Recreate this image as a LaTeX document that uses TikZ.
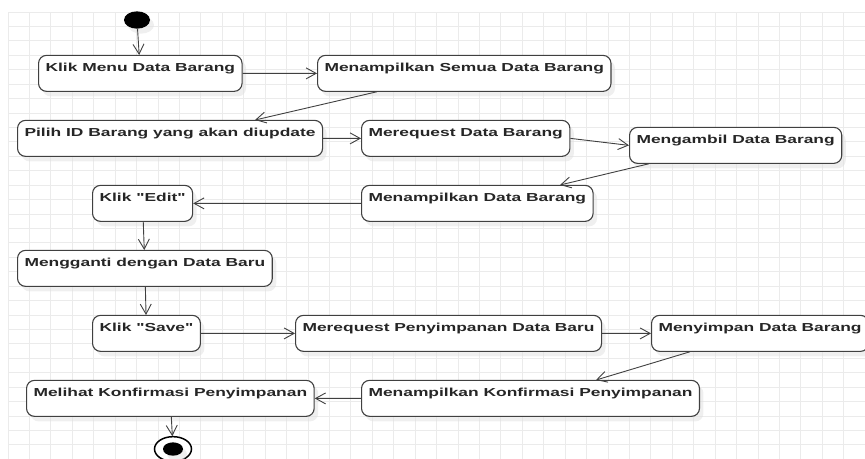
\documentclass[tikz,border=0pt]{standalone}
\usepackage{fontspec}
\newfontfamily\actfont{Liberation Sans}
\usetikzlibrary{arrows.meta,shadows}
\tikzset{
  activity/.style={draw=black!75, line width=1.1pt, fill=white, rounded corners=8pt,
    anchor=north west, inner xsep=7pt, inner ysep=4pt, text height=20pt, text depth=26pt,
    font=\actfont\bfseries\fontsize{17.4}{20}\selectfont, text=black!85,
    drop shadow={fill=black!12, shadow xshift=4pt, shadow yshift=-5pt}},
  initial/.style={circle, fill=black, minimum size=26pt, inner sep=0pt,
    drop shadow={fill=black!12, shadow xshift=4pt, shadow yshift=-5pt}},
  final/.style={circle, draw=black, line width=1.5pt, fill=white, minimum size=37pt, inner sep=0pt},
  flow/.style={draw=black!75, line width=0.9pt, -{Straight Barb[length=10pt,width=11pt]}},
  gridline/.style={draw=black!8, line width=1pt}
}
\begin{document}
\begin{tikzpicture}[x=1pt, y=-1.5pt, yscale=2/3, every node/.append style={transform shape}]
  \useasboundingbox (0,0) rectangle (865,459);
  \foreach \i in {0,...,39}
    \draw[gridline] ({8+21.43*\i},12) -- ({8+21.43*\i},459);
  \foreach \j in {0,...,30}
    \draw[gridline] (8,{12+14.43*\j}) -- (865,{12+14.43*\j});

  \node[initial] (start) at (137,20) {};
  \node[activity] (menu) at (38,55) {Klik Menu Data Barang};
  \node[activity] (semua) at (317,55) {Menampilkan Semua Data Barang};
  \node[activity] (pilih) at (17,120) {Pilih ID Barang yang akan diupdate};
  \node[activity] (request) at (361,120) {Merequest Data Barang};
  \node[activity] (ambil) at (629,127) {Mengambil Data Barang};
  \node[activity] (tampil) at (361,185) {Menampilkan Data Barang};
  \node[activity] (edit) at (92,185) {Klik "Edit"};
  \node[activity] (ganti) at (17,250) {Mengganti dengan Data Baru};
  \node[activity] (save) at (92,315) {Klik "Save"};
  \node[activity] (reqsimpan) at (295,315) {Merequest Penyimpanan Data Baru};
  \node[activity] (simpan) at (651,315) {Menyimpan Data Barang};
  \node[activity] (konfirmasi) at (361,380) {Menampilkan Konfirmasi Penyimpanan};
  \node[activity] (lihat) at (26,380) {Melihat Konfirmasi Penyimpanan};
  \node[final] (stop) at (173,449) {};
  \node[initial, minimum size=20pt, drop shadow={opacity=0}] (stopdot) at (stop) {};

  \draw[flow] (start) -- (menu);
  \draw[flow] (menu) -- (semua);
  \draw[flow] ([xshift=60pt]semua.south west) -- ([xshift=238pt]pilih.north west);
  \draw[flow] (pilih) -- (request);
  \draw[flow] (request.east) -- (ambil.west);
  \draw[flow] ([xshift=20pt]ambil.south west) -- ([xshift=199pt]tampil.north west);
  \draw[flow] (tampil) -- (edit);
  \draw[flow] (edit) -- (ganti);
  \draw[flow] (ganti) -- (save);
  \draw[flow] (save) -- (reqsimpan);
  \draw[flow] (reqsimpan) -- (simpan);
  \draw[flow] ([xshift=39pt]simpan.south west) -- ([xshift=235pt]konfirmasi.north west);
  \draw[flow] (konfirmasi) -- (lihat);
  \draw[flow] (lihat) -- (stop);
\end{tikzpicture}
\end{document}
